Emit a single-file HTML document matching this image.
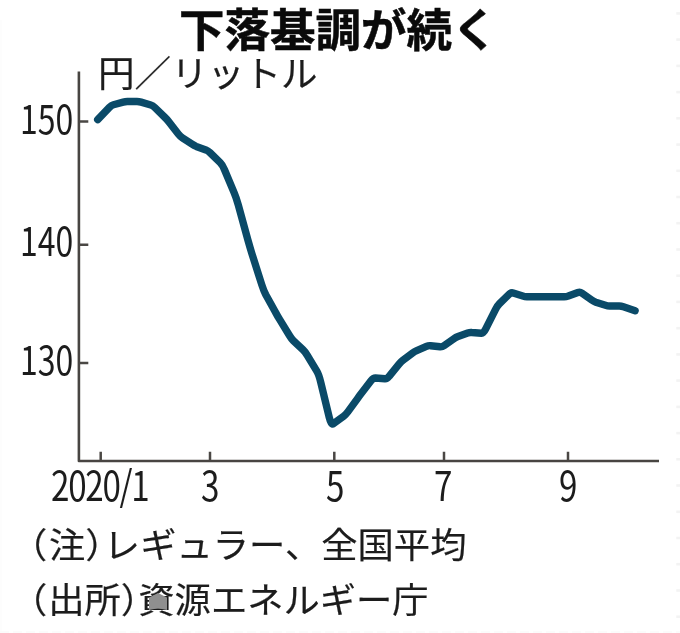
<!DOCTYPE html>
<html lang="ja"><head><meta charset="utf-8"><title>下落基調が続く</title>
<style>
html,body{margin:0;padding:0;background:#fff;}
body{width:680px;height:633px;position:relative;overflow:hidden;font-family:"Liberation Sans","Noto Sans CJK JP",sans-serif;color:#1a1a1a;}
.t{position:absolute;white-space:nowrap;line-height:1;transform-origin:0 0;}
#title{left:178.7px;top:4.6px;font-size:45.6px;font-weight:700;color:#0a0a0a;font-family:"Noto Sans CJK JP","Liberation Sans",sans-serif;transform:scaleX(0.998);-webkit-text-stroke:0.5px #0a0a0a;}
.lab{font-family:"Noto Sans CJK JP","Liberation Sans",sans-serif;font-weight:400;color:#1c1c1c;-webkit-text-stroke:0.2px #1c1c1c;}
#unit{left:98.4px;top:53px;font-size:36px;transform:scaleX(1.017);}
.num{font-family:"Noto Sans CJK JP","Liberation Sans",sans-serif;font-weight:400;color:#1c1c1c;}
.yn{font-size:40px;left:19.7px;transform:scaleX(0.8);}
#n150{top:97.4px;}
#n140{top:219px;}
#n130{top:338px;}
.xn{top:463.4px;font-size:41px;transform:scaleX(0.81);}
.note{font-size:35px;transform:scaleX(1.037);left:10.5px;}
#note1{top:525.1px;}
#note2{top:579.8px;}
.po{margin-right:1.6px}
.pc{margin-right:-17.1px}
svg{position:absolute;left:0;top:0;}
</style></head><body>
<svg width="680" height="633" viewBox="0 0 680 633">
<path d="M78.9 71.6V461H659" stroke="#484542" stroke-width="2.6" fill="none" stroke-linejoin="round"/>
<g stroke="#4a4744" stroke-width="2.5" fill="none">
<path d="M79 121.6H88.3M79 244.7H88.3M79 363.1H88.3"/>
<path d="M100.7 451.7V460M210 451.7V460M334.3 451.7V460M444 451.7V460M568 451.7V460"/>
</g>
<path d="M97.7 119.6L109.4 107.4Q111.5 105.3 113.5 104.7L123.2 102.1Q125.3 101.5 127.3 101.5L137.0 101.5Q139.0 101.5 141.1 102.1L150.8 105.0Q152.8 105.6 154.9 107.6L164.5 117.0Q166.6 119.0 168.7 121.6L178.3 134.0Q180.4 136.6 182.4 137.9L192.1 144.2Q194.2 145.6 196.2 146.4L205.9 149.9Q207.9 150.7 210.1 152.8L220.2 162.7Q222.4 164.8 224.5 169.7L234.1 192.6Q236.2 197.5 238.3 205.0L247.9 240.0Q250.0 247.5 252.0 254.0L261.7 284.5Q263.8 291.0 265.8 294.8L275.5 312.2Q277.5 316.0 279.6 319.4L289.3 335.3Q291.3 338.7 293.4 340.7L303.0 349.8Q305.1 351.8 307.2 355.2L316.8 371.2Q318.9 374.6 320.7 382.2L329.3 417.7Q331.2 425.3 333.3 423.7L343.6 416.3Q345.7 414.7 347.8 411.9L357.5 398.6Q359.5 395.8 361.6 393.1L371.2 380.6Q373.3 377.9 375.4 378.0L385.0 378.8Q387.1 378.9 389.1 376.3L398.8 364.3Q400.9 361.7 402.9 360.2L412.6 353.1Q414.6 351.6 416.7 350.7L426.4 346.4Q428.4 345.5 430.5 345.7L440.1 346.8Q442.2 347.0 444.3 345.5L453.9 338.7Q456.0 337.2 458.0 336.5L467.7 333.0Q469.8 332.3 471.8 332.5L481.5 333.2Q483.5 333.4 485.6 329.2L495.3 309.9Q497.3 305.7 499.4 303.7L509.0 294.3Q511.1 292.3 513.2 293.0L522.8 296.1Q524.9 296.8 526.9 296.8L536.6 296.8Q538.7 296.8 540.7 296.8L550.4 296.8Q552.4 296.8 554.5 296.8L564.2 296.8Q566.2 296.8 568.3 296.1L577.9 292.6Q580.0 291.8 582.1 293.3L591.7 300.0Q593.8 301.5 595.8 302.2L605.5 305.3Q607.6 306.0 609.6 306.0L619.3 306.0Q621.3 306.0 623.4 306.7L635.1 310.7" fill="none" stroke="#0a4a68" stroke-width="7.4" stroke-linejoin="round" stroke-linecap="round"/>
<rect x="676.3" y="12.1" width="3.7" height="2.6" fill="#f3f3f3"/><rect x="676.3" y="38.3" width="3.7" height="2.6" fill="#f3f3f3"/><rect x="676.3" y="64.6" width="3.7" height="2.6" fill="#f3f3f3"/><rect x="676.3" y="90.8" width="3.7" height="2.6" fill="#f3f3f3"/><rect x="676.3" y="117.0" width="3.7" height="2.6" fill="#f3f3f3"/><rect x="676.3" y="143.3" width="3.7" height="2.6" fill="#f3f3f3"/><rect x="676.3" y="169.5" width="3.7" height="2.6" fill="#f3f3f3"/><rect x="676.3" y="195.7" width="3.7" height="2.6" fill="#f3f3f3"/><rect x="676.3" y="221.9" width="3.7" height="2.6" fill="#f3f3f3"/><rect x="676.3" y="248.2" width="3.7" height="2.6" fill="#f3f3f3"/><rect x="676.3" y="274.4" width="3.7" height="2.6" fill="#f3f3f3"/><rect x="676.3" y="300.6" width="3.7" height="2.6" fill="#f3f3f3"/><rect x="676.3" y="326.9" width="3.7" height="2.6" fill="#f3f3f3"/><rect x="676.3" y="353.1" width="3.7" height="2.6" fill="#f3f3f3"/><rect x="676.3" y="379.3" width="3.7" height="2.6" fill="#f3f3f3"/><rect x="676.3" y="405.6" width="3.7" height="2.6" fill="#f3f3f3"/><rect x="676.3" y="431.8" width="3.7" height="2.6" fill="#f3f3f3"/><rect x="676.3" y="458.0" width="3.7" height="2.6" fill="#f3f3f3"/><rect x="676.3" y="484.2" width="3.7" height="2.6" fill="#f3f3f3"/><rect x="676.3" y="510.5" width="3.7" height="2.6" fill="#f3f3f3"/><rect x="676.3" y="536.7" width="3.7" height="2.6" fill="#f3f3f3"/><rect x="676.3" y="562.9" width="3.7" height="2.6" fill="#f3f3f3"/><rect x="676.3" y="589.2" width="3.7" height="2.6" fill="#f3f3f3"/><rect x="676.3" y="615.4" width="3.7" height="2.6" fill="#f3f3f3"/>
<rect x="0" y="20" width="2" height="613" fill="#fdfdfd"/>
<path d="M0 632H680" stroke="#fbfbfb" stroke-width="2" stroke-dasharray="9 4"/>
</svg>
<div id="title" class="t">下落基調が続く</div>
<div id="unit" class="t lab">円／リットル</div>
<div id="n150" class="t num yn">150</div>
<div id="n140" class="t num yn">140</div>
<div id="n130" class="t num yn">130</div>
<div id="x1" class="t num xn" style="left:51px;letter-spacing:-1.6px">2020/1</div>
<div id="x3" class="t num xn" style="left:201.2px">3</div>
<div id="x5" class="t num xn" style="left:325.5px">5</div>
<div id="x7" class="t num xn" style="left:434.1px">7</div>
<div id="x9" class="t num xn" style="left:559.2px">9</div>
<div id="note1" class="t lab note"><span class="po">（</span>注<span class="pc">）</span>レギュラー、全国平均</div>
<div id="note2" class="t lab note"><span class="po" style="margin-right:0.8px">（</span>出所<span class="pc" style="margin-right:-18.1px">）</span>資源エネルギー庁</div>
<svg width="680" height="633" viewBox="0 0 680 633" style="pointer-events:none"><polygon points="149,597.5 158,593 167,597.5 167,610 158,608.3 149,610" fill="#8f8f8f"/></svg>
</body></html>
